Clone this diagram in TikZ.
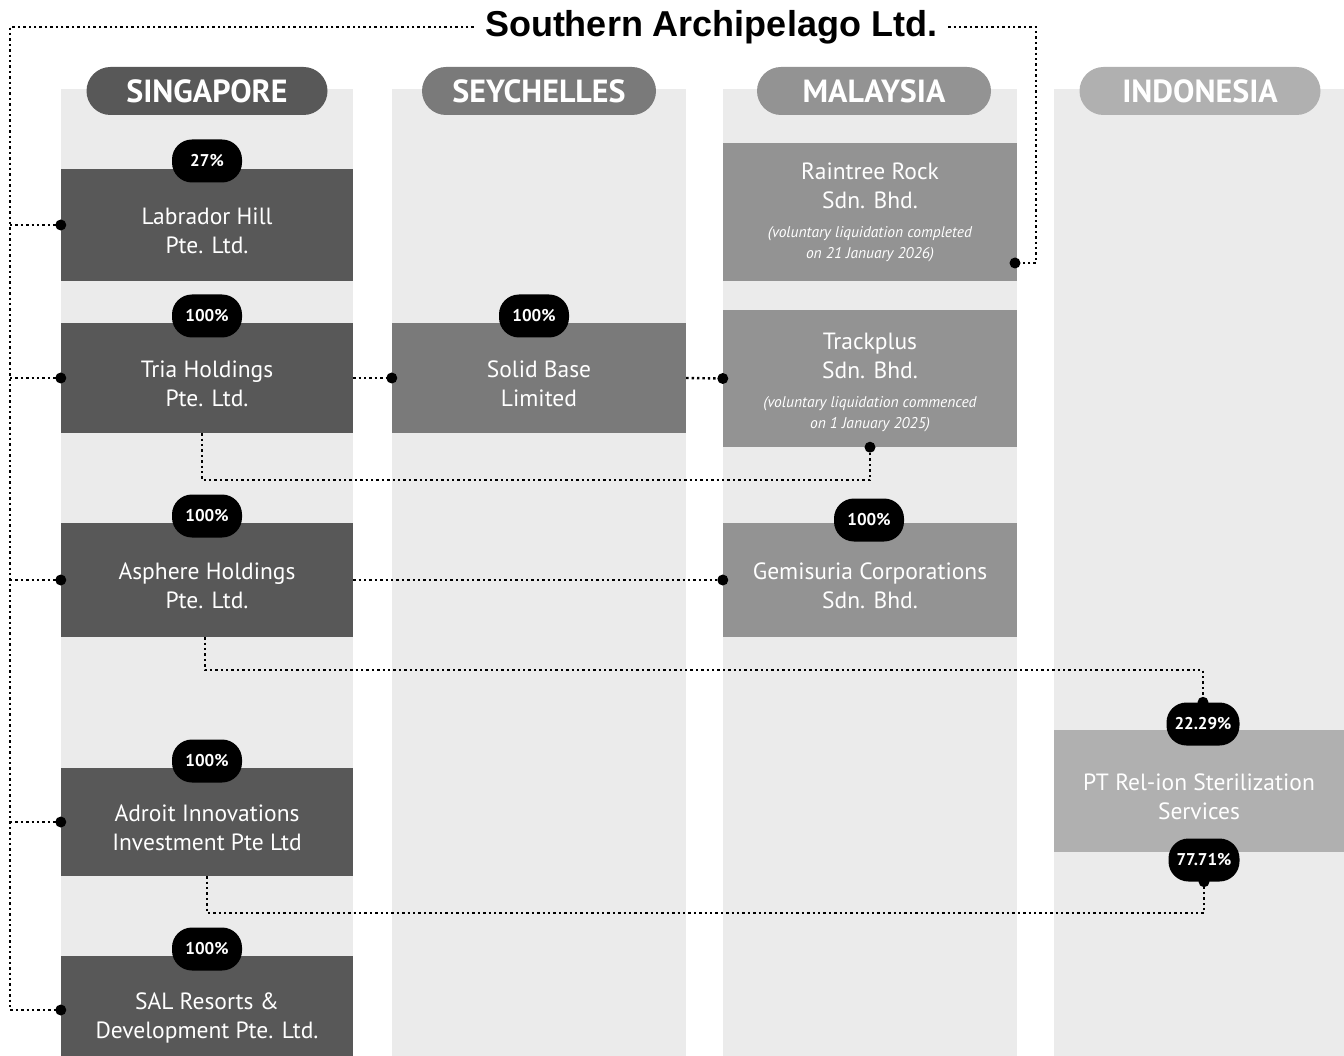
\documentclass[tikz,border=0pt]{standalone}
\usepackage{fontspec}
\setmainfont{PT Sans}
\newfontfamily\titlefont{Liberation Sans}
\usepackage{tikz}
\usetikzlibrary{positioning, calc}
\usepackage{xcolor}

\definecolor{sgpgray}{HTML}{585858}
\definecolor{seygray}{HTML}{7A7A7A}
\definecolor{mysgray}{HTML}{939393}
\definecolor{idngray}{HTML}{B0B0B0}
\definecolor{colbg}{HTML}{EBEBEB}
\newcommand{\notefont}{\fontsize{15.5}{21}\selectfont\itshape}

\begin{document}
\begin{tikzpicture}[x=1pt, y=-1pt,
    column/.style={fill=colbg, draw=none},
    header/.style={rounded corners=24pt, minimum width=241pt, minimum height=48pt,
        text=white, font=\fontsize{32}{34}\selectfont\bfseries, inner sep=0pt},
    corpbox/.style={minimum width=292pt, text=white, align=center, inner sep=0pt,
        font=\fontsize{23.5}{29}\selectfont},
    twoline/.style={corpbox, text height=61pt, text depth=4pt},
    stake/.style={fill=black, text=white, rounded corners=20pt, minimum width=70pt,
        minimum height=43pt, inner xsep=8pt, font=\fontsize{17}{19}\selectfont\bfseries},
    link/.style={draw=black, line width=2.4pt, dash pattern=on 2.4pt off 3pt},
    joint/.style={fill=black, draw=none}]
    \useasboundingbox (0,0) rectangle (1344,1056);

    % Country columns
    \fill[column] (61,89) rectangle (353,1056);
    \fill[column] (392,89) rectangle (686,1056);
    \fill[column] (723,89) rectangle (1017,1056);
    \fill[column] (1054,89) rectangle (1344,1056);

    % Title
    \node[font=\titlefont\fontsize{36}{38}\selectfont\bfseries, inner xsep=11pt] (title) at (711,27) {Southern Archipelago Ltd.};

    % Headers
    \node[header, fill=sgpgray] (sgp) at (207,91) {SINGAPORE};
    \node[header, fill=seygray, minimum width=234pt] (sey) at (539,91) {SEYCHELLES};
    \node[header, fill=mysgray, minimum width=234pt] (mys) at (874,91) {MALAYSIA};
    \node[header, fill=idngray] (idn) at (1200,91) {INDONESIA};

    % Singapore
    \node[twoline, fill=sgpgray, minimum height=112pt] (lab) at (207,225) {Labrador Hill\\Pte. Ltd.};
    \node[twoline, fill=sgpgray, minimum height=110pt] (tria) at (207,378) {Tria Holdings\\Pte. Ltd.};
    \node[twoline, fill=sgpgray, minimum height=114pt] (asph) at (207,580) {Asphere Holdings\\Pte. Ltd.};
    \node[twoline, fill=sgpgray, minimum height=108pt] (adroit) at (207,822) {Adroit Innovations\\Investment Pte Ltd};
    \node[twoline, fill=sgpgray, minimum height=108pt] (sal) at (207,1010) {SAL Resorts \&\\Development Pte. Ltd.};

    % Seychelles
    \node[twoline, fill=seygray, minimum width=294pt, minimum height=110pt] (solid) at (539,378) {Solid Base\\Limited};

    % Malaysia
    \node[corpbox, fill=mysgray, minimum width=294pt, minimum height=138pt] (rain) at (870,212)
        {Raintree Rock\\Sdn. Bhd.\\[0pt]{\notefont (voluntary liquidation completed}\\[-8pt]{\notefont on 21 January 2026)}};
    \node[corpbox, fill=mysgray, minimum width=294pt, minimum height=137pt] (track) at (870,378.5)
        {\rule{0pt}{24pt}Trackplus\\Sdn. Bhd.\\[0pt]{\notefont (voluntary liquidation commenced}\\[-8pt]{\notefont on 1 January 2025)}};
    \node[twoline, fill=mysgray, minimum width=294pt, minimum height=114pt] (gemi) at (870,580) {Gemisuria Corporations\\Sdn. Bhd.};

    % Indonesia
    \node[twoline, fill=idngray, minimum width=290pt, minimum height=122pt] (relion) at (1199,791) {PT Rel-ion Sterilization\\Services};

    % Stakes
    \node[stake] (p-lab) at (207,161) {27\%};
    \node[stake] (p-tria) at (207,316) {100\%};
    \node[stake] (p-solid) at (534,316) {100\%};
    \node[stake] (p-asph) at (207,516) {100\%};
    \node[stake] (p-gemi) at (869,520) {100\%};
    \node[stake] (p-adroit) at (207,761) {100\%};
    \node[stake] (p-sal) at (207,949) {100\%};
    \node[stake] (p-rel1) at (1203,724) {22.29\%};
    \node[stake] (p-rel2) at (1204,860) {77.71\%};

    % Ownership links
    \coordinate (trunk) at (10,30);
    \coordinate (rain-dot) at (1015,263);
    \draw[link] (title.west) -| (sal.west -| trunk) -- (sal.west);
    \draw[link] (trunk |- lab.west) -- (lab.west);
    \draw[link] (trunk |- tria.west) -- (tria.west);
    \draw[link] (trunk |- asph.west) -- (asph.west);
    \draw[link] (trunk |- adroit.west) -- (adroit.west);
    \draw[link] (title.east) -| (1036,263) -- (rain-dot);
    \draw[link] (tria.east) -- (solid.west);
    \draw[link] (solid.east) -- (track.west);
    \draw[link] ([xshift=-5pt]tria.south) -- ++(0,47) -| (track.south);
    \draw[link] (asph.east) -- (gemi.west);
    \draw[link] ([xshift=-2pt]asph.south) -- ++(0,33) -| (p-rel1.north);
    \draw[link] (adroit.south) -- ++(0,37) -| (p-rel2.south);

    % Joints
    \foreach \p in {lab.west, tria.west, asph.west, adroit.west, sal.west,
        solid.west, track.west, gemi.west, track.south, p-rel1.north, p-rel2.south, rain-dot}
        \fill[joint] (\p) circle (5.5pt);
\end{tikzpicture}
\end{document}
